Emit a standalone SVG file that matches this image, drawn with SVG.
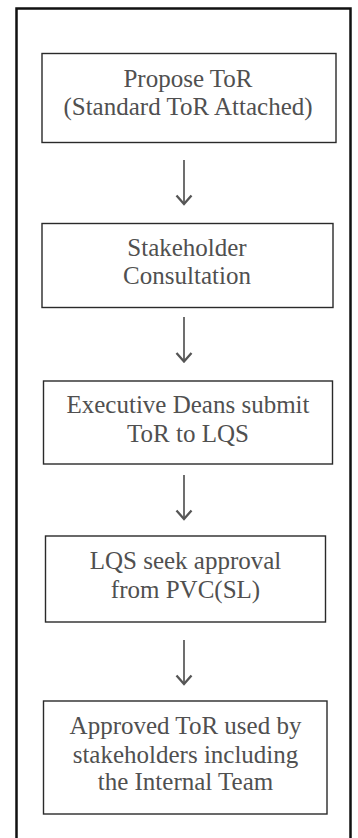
<svg xmlns="http://www.w3.org/2000/svg" width="358" height="838" viewBox="0 0 358 838">
<style>
.frame{fill:none;stroke:#111;stroke-width:2.5}
.box{fill:#fff;stroke:#2a2a2a;stroke-width:1.4}
.lbl{font-family:"Liberation Serif",Tinos,"Times New Roman","DejaVu Serif",serif;font-size:25px;fill:#505050;text-anchor:middle}
.conn{fill:none;stroke:#555;stroke-width:1.7}
</style>
<defs>
<marker id="arr" viewBox="0 0 12 18" refX="10.5" refY="9" markerWidth="12" markerHeight="18" markerUnits="userSpaceOnUse" orient="auto">
<path d="M2,1.5 L10.5,9 L2,16.5" fill="none" stroke="#555" stroke-width="2.3"/>
</marker>
</defs>
<rect width="358" height="838" fill="#fff"/>
<rect class="frame" x="16.5" y="8.5" width="334" height="840"/>
<g id="n1">
<rect class="box" x="42" y="53.5" width="294" height="89"/>
<text class="lbl" x="188" y="87">Propose ToR</text>
<text class="lbl" x="188" y="115">(Standard ToR Attached)</text>
</g>
<g id="n2">
<rect class="box" x="42" y="223.5" width="291" height="84"/>
<text class="lbl" x="187" y="256">Stakeholder</text>
<text class="lbl" x="187" y="284">Consultation</text>
</g>
<g id="n3">
<rect class="box" x="43.5" y="381" width="289" height="83"/>
<text class="lbl" x="188" y="413">Executive Deans submit</text>
<text class="lbl" x="188" y="441.5">ToR to LQS</text>
</g>
<g id="n4">
<rect class="box" x="45.5" y="536" width="280" height="86"/>
<text class="lbl" x="185.5" y="568.5">LQS seek approval</text>
<text class="lbl" x="185.5" y="598">from PVC(SL)</text>
</g>
<g id="n5">
<rect class="box" x="43.5" y="701" width="283.5" height="113"/>
<text class="lbl" x="185.5" y="734">Approved ToR used by</text>
<text class="lbl" x="185.5" y="762.5">stakeholders including</text>
<text class="lbl" x="185.5" y="790">the Internal Team</text>
</g>
<g id="connectors">
<line class="conn" x1="184" y1="160" x2="184" y2="204" marker-end="url(#arr)"/>
<line class="conn" x1="184" y1="317" x2="184" y2="361.5" marker-end="url(#arr)"/>
<line class="conn" x1="184" y1="475" x2="184" y2="519" marker-end="url(#arr)"/>
<line class="conn" x1="184" y1="640" x2="184" y2="684" marker-end="url(#arr)"/>
</g>
</svg>
